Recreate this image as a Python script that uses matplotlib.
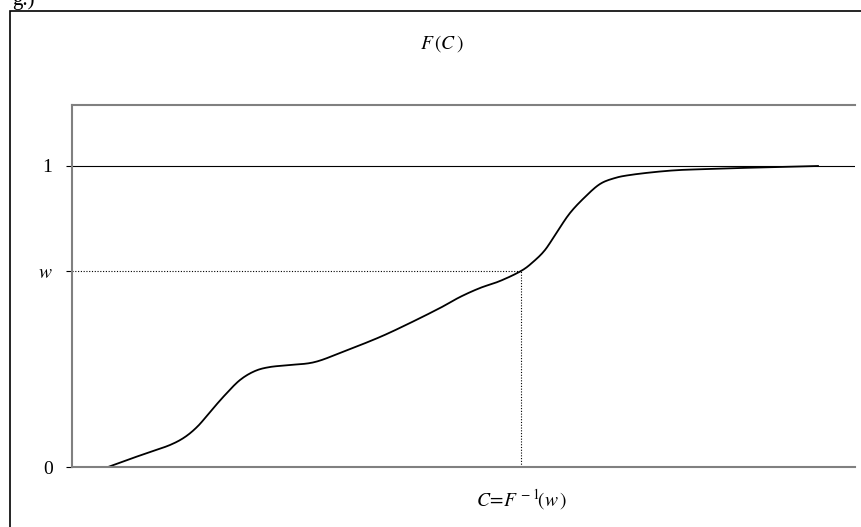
import matplotlib
matplotlib.use("Agg")
import matplotlib.pyplot as plt
from matplotlib.patches import Rectangle
import numpy as np

plt.rcParams['font.family'] = ['Liberation Serif', 'DejaVu Serif']
plt.rcParams['mathtext.fontset'] = 'stix'

# curve (x in pixel-like units, y as F value)
cx = [108, 130, 150, 170, 185, 198, 210, 225, 240, 255, 270, 290, 315, 345, 380, 410,
      440, 460, 480, 500, 521, 533, 545, 557, 570, 585, 600, 615, 630, 655, 680, 710,
      740, 780, 818]
cpy = [467, 459, 452, 445, 437, 426, 412, 395, 380, 371, 367, 365, 362, 351, 337, 323,
       308, 297, 288, 281, 271, 262, 250, 232, 213, 197, 184, 178, 175, 172, 170, 169,
       168, 167, 166]
cy = [(467 - p) / 301 for p in cpy]
w_val = (467 - 271) / 301
c_val = 521


def smooth(xs, ys, n=12):
    # catmull-rom through the read points, just for a smoother stroke
    p = np.column_stack([xs, ys]).astype(float)
    p = np.vstack([p[0], p, p[-1]])
    out = []
    t = np.linspace(0, 1, n, endpoint=False)[:, None]
    for i in range(1, len(p) - 2):
        p0, p1, p2, p3 = p[i - 1], p[i], p[i + 1], p[i + 2]
        out.append(0.5 * (2 * p1 + (-p0 + p2) * t + (2 * p0 - 5 * p1 + 4 * p2 - p3) * t ** 2
                          + (-p0 + 3 * p1 - 3 * p2 + p3) * t ** 3))
    out.append(p[-2][None, :])
    out = np.vstack(out)
    return out[:, 0], out[:, 1]


fig = plt.figure(figsize=(8.61, 5.27), dpi=100)
fig.patches.append(Rectangle((10 / 861, -0.01), 1.0, 1 - 11 / 527 + 0.01,
                             transform=fig.transFigure, fill=False, ec='black', lw=1.2))
fig.text(12 / 861, 1.0, "g.)", ha='left', va='center', fontsize=15)

ax = fig.add_axes([72 / 861, 60 / 527, 783 / 861, 362 / 527])
sx, sy = smooth(cx, cy)
ax.plot(sx, sy, color='black', lw=1.3)
ax.axhline(1, color='black', lw=0.8)
ax.plot([72, c_val], [w_val, w_val], color='black', lw=0.8, ls=(0, (1, 1.5)))
ax.plot([c_val, c_val], [0, w_val], color='black', lw=0.8, ls=(0, (1, 1.5)))
ax.set_xlim(72, 855)
ax.set_ylim(0, (467 - 105) / 301)
ax.set_xticks([])
ax.set_yticks([0, w_val, 1])
ax.set_yticklabels(['0', '$w$', '1'], fontsize=14)
ax.tick_params(axis='y', length=4, pad=10)
for s in ['left', 'bottom', 'top']:
    ax.spines[s].set_color('#808080')
    ax.spines[s].set_linewidth(1.5)
ax.spines['right'].set_visible(False)

fig.text(442 / 861, 1 - 44 / 527, "$F\\,(C\\,)$", ha='center', va='center', fontsize=14)
fig.text(521 / 861, 1 - 500 / 527, "$C\\!=\\!F^{\\,-1}\\!(w\\,)$", ha='center', va='center', fontsize=14)

fig.savefig("out.png", dpi=100)
